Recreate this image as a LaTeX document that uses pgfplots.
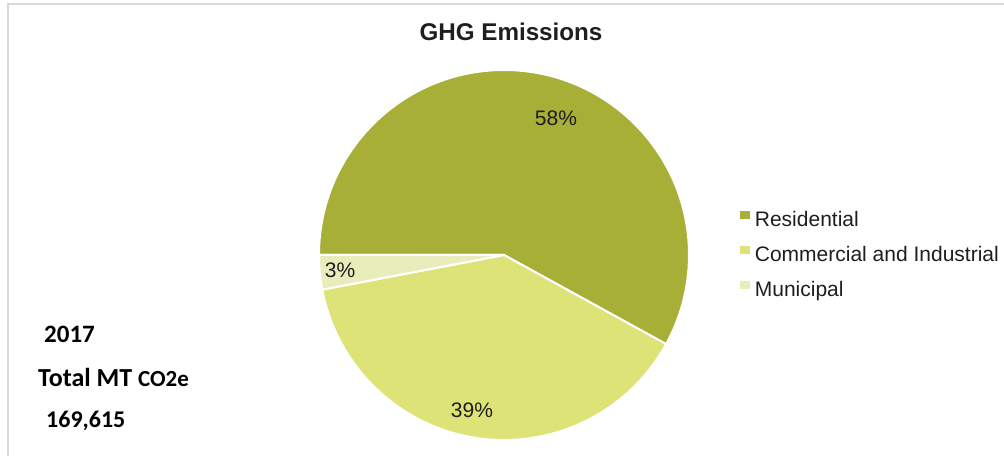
\documentclass[border=0pt]{standalone}
\usepackage{pgfplots}
\usepackage{pgfplotstable}
\pgfplotsset{compat=1.18}
\usepackage{fontspec}
\setmainfont{Liberation Sans}
\newfontfamily\calfont{Carlito}
\definecolor{cRes}{RGB}{168,175,55}
\definecolor{cCom}{RGB}{221,227,119}
\definecolor{cMun}{RGB}{233,237,187}
\definecolor{frame}{RGB}{217,217,217}
\definecolor{txt}{RGB}{30,30,30}

\pgfplotstableread{
label value
Residential 58
Commercial 39
Municipal 3
}\ghg
\pgfplotstablegetelem{0}{value}\of\ghg \let\vA\pgfplotsretval
\pgfplotstablegetelem{1}{value}\of\ghg \let\vB\pgfplotsretval
\pgfplotstablegetelem{2}{value}\of\ghg \let\vC\pgfplotsretval

\begin{document}
\begin{tikzpicture}
\useasboundingbox (0,0) rectangle (1004bp,456bp);
\begin{axis}[
  at={(0,0)}, anchor=south west,
  scale only axis, width=1004bp, height=456bp,
  xmin=0, xmax=1004, ymin=0, ymax=456,
  hide axis, clip=false,
  legend cell align=left,
  legend image code/.code={\fill[#1] (0bp,2.5bp) rectangle (8.5bp,9.5bp);},
  legend style={draw=none, fill=none, inner sep=0pt, outer sep=0pt,
    at={(axis cs:740,245)}, anchor=north west,
    font=\fontsize{21bp}{24bp}\selectfont, text=txt,
    row sep=16bp,
    nodes={inner sep=0pt, outer sep=0pt, text height=15bp, text depth=4bp},
    /tikz/every odd column/.append style={column sep=6bp}},
]
% frame
\draw[frame, line width=2.2bp] (axis cs:7,452) -- (axis cs:1004,452);
\draw[frame, line width=1.8bp] (axis cs:7.8,0) -- (axis cs:7.8,453);
% slices
\pgfmathsetmacro{\aA}{180-3.6*\vA}
\pgfmathsetmacro{\aB}{\aA-3.6*\vB}
\pgfmathsetmacro{\aC}{\aB-3.6*\vC}
\filldraw[fill=cRes, draw=white, line width=2bp, line join=round]
  (axis cs:504,201) -- ++(180:185bp) arc[start angle=180, end angle=\aA, radius=185bp] -- cycle;
\filldraw[fill=cCom, draw=white, line width=2bp, line join=round]
  (axis cs:504,201) -- ++(\aA:185bp) arc[start angle=\aA, end angle=\aB, radius=185bp] -- cycle;
\filldraw[fill=cMun, draw=white, line width=2bp, line join=round]
  (axis cs:504,201) -- ++(\aB:185bp) arc[start angle=\aB, end angle=\aC, radius=185bp] -- cycle;
% labels
\node[font=\fontsize{21bp}{24bp}\selectfont, text=txt] at (axis cs:556,338) {\vA\%};
\node[font=\fontsize{21bp}{24bp}\selectfont, text=txt] at (axis cs:472,46) {\vB\%};
\node[font=\fontsize{21bp}{24bp}\selectfont, text=txt] at (axis cs:340,186) {\vC\%};
% title
\node[font=\bfseries\fontsize{24.2bp}{28bp}\selectfont, text=txt] at (axis cs:511,424) {GHG Emissions};
% side text
\node[anchor=base west, inner sep=0pt, font=\calfont\bfseries\fontsize{25bp}{30bp}\selectfont] at (axis cs:44,113) {2017};
\node[anchor=base west, inner sep=0pt, font=\calfont\bfseries\fontsize{26bp}{30bp}\selectfont] at (axis cs:38,69) {Total MT {\fontsize{23bp}{26bp}\selectfont CO2e}};
\node[anchor=base west, inner sep=0pt, font=\calfont\bfseries\fontsize{24bp}{30bp}\selectfont] at (axis cs:46,29) {169,615};
% legend
\addlegendimage{cRes}
\addlegendentry{Residential}
\addlegendimage{cCom}
\addlegendentry{Commercial and Industrial}
\addlegendimage{cMun}
\addlegendentry{Municipal}
\end{axis}
\end{tikzpicture}
\end{document}
